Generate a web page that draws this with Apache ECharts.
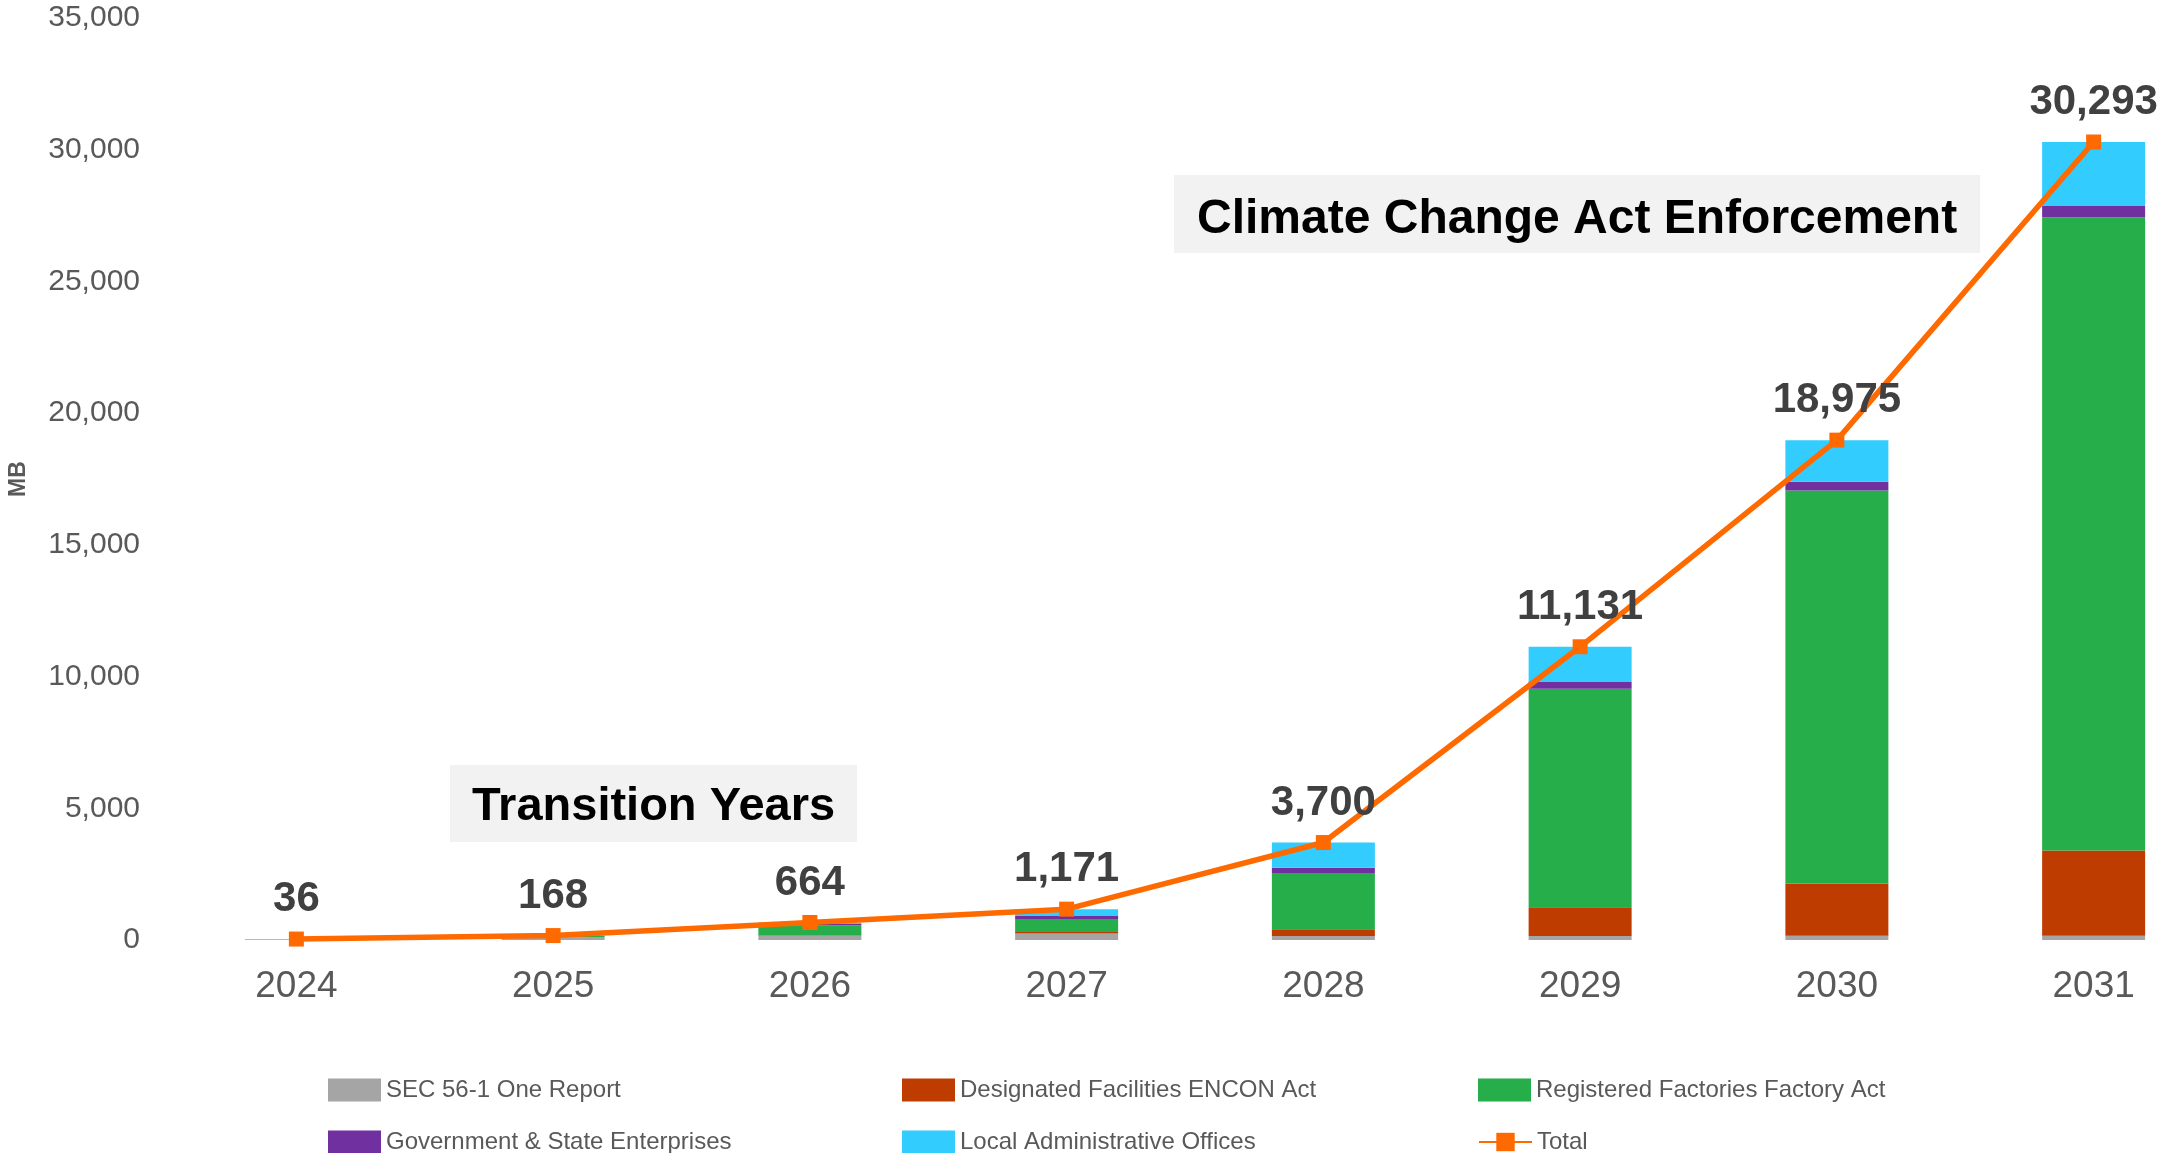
<!DOCTYPE html>
<html>
<head>
<meta charset="utf-8">
<script src="https://cdn.jsdelivr.net/npm/echarts@6/dist/echarts.min.js"></script>
<style>
html, body { margin: 0; padding: 0; background: #fff; }
#chart { width: 2159px; height: 1153px; }
</style>
</head>
<body>
<div id="chart"></div>
<script>
// data
var years = ['2024', '2025', '2026', '2027', '2028', '2029', '2030', '2031'];
var secReport = [18, 110, 165, 250, 150, 150, 163, 163];
var enconAct = [0, 5, 15, 53, 254, 1089, 1985, 3237];
var factoryAct = [0, 35, 380, 493, 2137, 8298, 14918, 24035];
var govEnterprises = [0, 8, 45, 137, 201, 277, 326, 429];
var localOffices = [18, 10, 59, 238, 958, 1317, 1583, 2429];
var totals = [36, 168, 664, 1171, 3700, 11131, 18975, 30293];
var yTicks = { min: 0, max: 35000, step: 5000 };

var FONT = '"Liberation Sans", Arial, sans-serif';
var GREY_TEXT = '#595959';

function barSeries(name, data, color) {
    return {
        name: name,
        type: 'bar',
        stack: 'total',
        barWidth: 103,
        data: data,
        itemStyle: { color: color },
        emphasis: { disabled: true }
    };
}

function legendAt(name, left, top, isLine) {
    var lg = {
        data: [name],
        left: left,
        top: top,
        padding: 0,
        itemWidth: 53,
        itemHeight: 23,
        itemGap: 0,
        selectedMode: false,
        textStyle: { fontFamily: FONT, fontSize: 24, color: GREY_TEXT }
    };
    if (!isLine) lg.icon = 'rect';
    return lg;
}

var myChart = echarts.init(document.getElementById('chart'));
var option = {
    backgroundColor: '#ffffff',
    animation: false,
    grid: { left: 168, right: -63, top: 18, bottom: 213, containLabel: false, outerBoundsMode: 'none' },
    xAxis: {
        type: 'category',
        data: years,
        axisLine: { show: false },
        axisTick: { show: false },
        axisLabel: { fontFamily: FONT, fontSize: 37, color: GREY_TEXT, margin: 28 }
    },
    yAxis: {
        type: 'value',
        min: yTicks.min,
        max: yTicks.max,
        interval: yTicks.step,
        name: 'MB',
        nameLocation: 'middle',
        nameGap: 138,
        nameTextStyle: { fontFamily: FONT, fontSize: 23, fontWeight: 'bold', color: GREY_TEXT },
        splitLine: { show: false },
        axisLine: { show: false },
        axisTick: { show: false },
        axisLabel: {
            fontFamily: FONT, fontSize: 30, color: GREY_TEXT, margin: 28,
            formatter: function (v) { return v.toLocaleString('en-US'); }
        }
    },
    legend: [
        legendAt('SEC 56-1 One Report', 328, 1078),
        legendAt('Designated Facilities ENCON Act', 902, 1078),
        legendAt('Registered Factories Factory Act', 1478, 1078),
        legendAt('Government & State Enterprises', 328, 1130),
        legendAt('Local Administrative Offices', 902, 1130),
        legendAt('Total', 1478, 1130, true)
    ],
    graphic: [
        {
            type: 'text',
            left: 450,
            top: 765,
            style: {
                text: 'Transition Years',
                font: 'bold 47px ' + FONT,
                fill: '#000000',
                backgroundColor: '#F2F2F2',
                padding: [19, 22, 11, 22]
            }
        },
        {
            type: 'text',
            left: 1174,
            top: 175,
            style: {
                text: 'Climate Change Act Enforcement',
                font: 'bold 48px ' + FONT,
                fill: '#000000',
                backgroundColor: '#F2F2F2',
                padding: [21, 23, 9, 23]
            }
        }
    ],
    series: [
        barSeries('SEC 56-1 One Report', secReport, '#A5A5A5'),
        barSeries('Designated Facilities ENCON Act', enconAct, '#BF3C00'),
        barSeries('Registered Factories Factory Act', factoryAct, '#25AE4A'),
        barSeries('Government & State Enterprises', govEnterprises, '#7030A0'),
        barSeries('Local Administrative Offices', localOffices, '#33CCFF'),
        {
            name: 'Total',
            type: 'line',
            data: totals,
            z: 5,
            symbol: 'rect',
            symbolSize: 15,
            itemStyle: { color: '#FF6A00' },
            lineStyle: { color: '#FF6A00', width: 5.5 },
            emphasis: { disabled: true },
            label: {
                show: true,
                position: 'top',
                distance: 11,
                fontFamily: FONT,
                fontSize: 42,
                fontWeight: 'bold',
                color: '#404040',
                formatter: function (p) { return p.value.toLocaleString('en-US'); }
            }
        }
    ]
};
myChart.setOption(option);
window.addEventListener('resize', function () {
    myChart.resize();
});
</script>
</body>
</html>
